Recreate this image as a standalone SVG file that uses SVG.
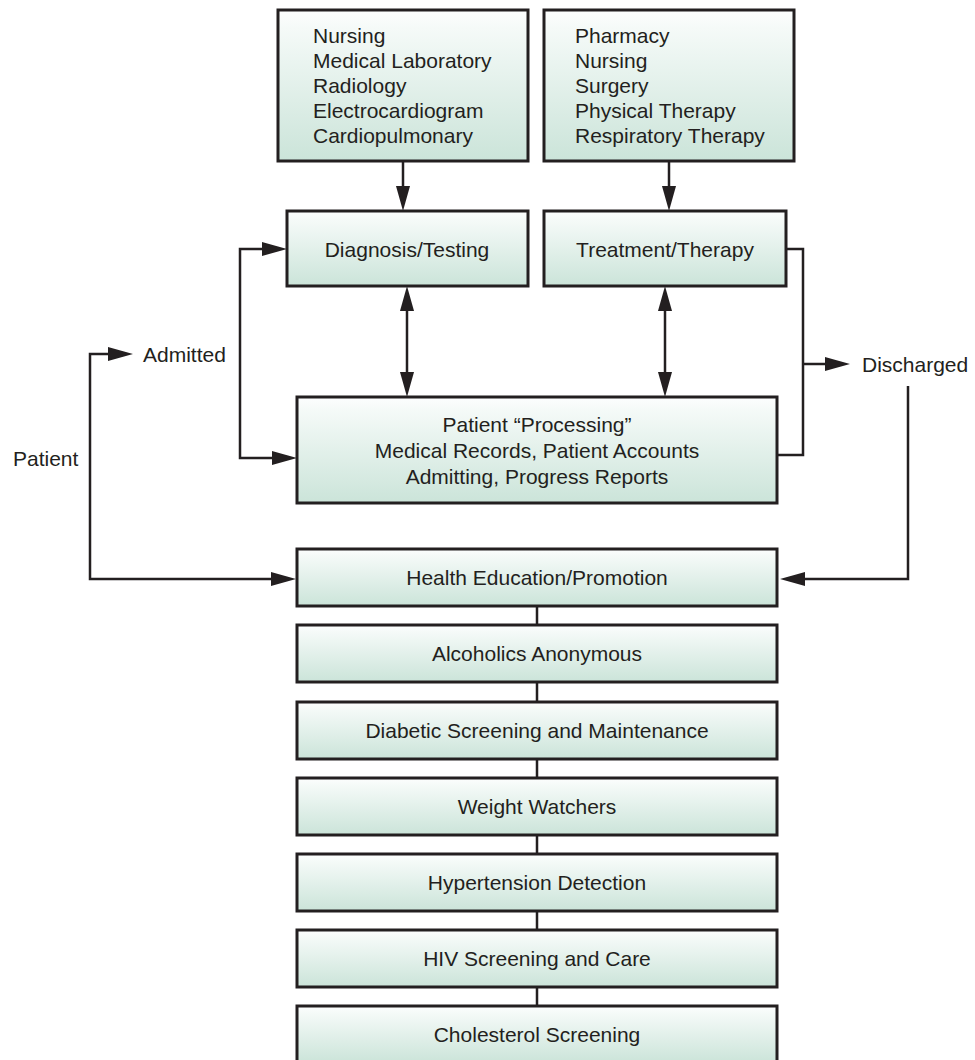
<svg xmlns="http://www.w3.org/2000/svg" width="975" height="1060" viewBox="0 0 975 1060">
  <defs>
    <linearGradient id="mint" x1="0" y1="0" x2="0" y2="1">
      <stop offset="0" stop-color="#fdfefe"/>
      <stop offset="0.12" stop-color="#f5faf8"/>
      <stop offset="1" stop-color="#cbe4d9"/>
    </linearGradient>
    <marker id="head" markerUnits="userSpaceOnUse" markerWidth="26" markerHeight="14" refX="0" refY="7" orient="auto-start-reverse">
      <path d="M0,0 L25,7 L0,14 z" fill="#231f20"/>
    </marker>
    <style>
      .box { fill: url(#mint); stroke: #231f20; stroke-width: 3; }
      .lbl { font-family: "Liberation Sans", Arial, sans-serif; font-size: 21px; fill: #231f20; }
      .mid { text-anchor: middle; }
      .wire { fill: none; stroke: #231f20; stroke-width: 2.5; }
      .arrow { marker-end: url(#head); }
      .both { marker-start: url(#head); marker-end: url(#head); }
    </style>
  </defs>
  <rect width="975" height="1060" fill="#ffffff"/>

  <!-- connectors -->
  <g id="connectors">
    <path class="wire arrow" d="M403,161 V186"/>
    <path class="wire arrow" d="M669,161 V186"/>
    <path class="wire both" d="M407,311 V372"/>
    <path class="wire both" d="M665,311 V372"/>
    <path class="wire both" d="M262,249 H240 V458 H272"/>
    <path class="wire both" d="M108,354 H90 V579 H271"/>
    <path class="wire" d="M786,249 H803 V455 H777"/>
    <path class="wire arrow" d="M803,364 H825"/>
    <path class="wire arrow" d="M908,386 V579 H805"/>
    <path class="wire" d="M537,606 V625 M537,682 V702 M537,759 V778 M537,835 V854 M537,911 V930 M537,987 V1006"/>
  </g>

  <!-- free labels -->
  <g id="labels">
    <text class="lbl" x="143" y="362">Admitted</text>
    <text class="lbl" x="13" y="466">Patient</text>
    <text class="lbl" x="862" y="372">Discharged</text>
  </g>

  <g id="diagnostic-services">
    <rect class="box" x="278" y="10" width="250" height="151"/>
    <text class="lbl" x="313" y="43">Nursing</text>
    <text class="lbl" x="313" y="68">Medical Laboratory</text>
    <text class="lbl" x="313" y="93">Radiology</text>
    <text class="lbl" x="313" y="118">Electrocardiogram</text>
    <text class="lbl" x="313" y="143">Cardiopulmonary</text>
  </g>

  <g id="therapy-services">
    <rect class="box" x="544" y="10" width="250" height="151"/>
    <text class="lbl" x="575" y="43">Pharmacy</text>
    <text class="lbl" x="575" y="68">Nursing</text>
    <text class="lbl" x="575" y="93">Surgery</text>
    <text class="lbl" x="575" y="118">Physical Therapy</text>
    <text class="lbl" x="575" y="143">Respiratory Therapy</text>
  </g>

  <g id="diagnosis">
    <rect class="box" x="287" y="211" width="241" height="75"/>
    <text class="lbl mid" x="407" y="257">Diagnosis/Testing</text>
  </g>

  <g id="treatment">
    <rect class="box" x="544" y="211" width="242" height="75"/>
    <text class="lbl mid" x="665" y="257">Treatment/Therapy</text>
  </g>

  <g id="processing">
    <rect class="box" x="297" y="397" width="480" height="106"/>
    <text class="lbl mid" x="537" y="432">Patient “Processing”</text>
    <text class="lbl mid" x="537" y="458">Medical Records, Patient Accounts</text>
    <text class="lbl mid" x="537" y="484">Admitting, Progress Reports</text>
  </g>

  <g id="health-education">
    <rect class="box" x="297" y="549" width="480" height="57"/>
    <text class="lbl mid" x="537" y="585">Health Education/Promotion</text>
  </g>

  <g id="alcoholics-anonymous">
    <rect class="box" x="297" y="625" width="480" height="57"/>
    <text class="lbl mid" x="537" y="661">Alcoholics Anonymous</text>
  </g>

  <g id="diabetic-screening">
    <rect class="box" x="297" y="702" width="480" height="57"/>
    <text class="lbl mid" x="537" y="738">Diabetic Screening and Maintenance</text>
  </g>

  <g id="weight-watchers">
    <rect class="box" x="297" y="778" width="480" height="57"/>
    <text class="lbl mid" x="537" y="814">Weight Watchers</text>
  </g>

  <g id="hypertension">
    <rect class="box" x="297" y="854" width="480" height="57"/>
    <text class="lbl mid" x="537" y="890">Hypertension Detection</text>
  </g>

  <g id="hiv-screening">
    <rect class="box" x="297" y="930" width="480" height="57"/>
    <text class="lbl mid" x="537" y="966">HIV Screening and Care</text>
  </g>

  <g id="cholesterol">
    <rect class="box" x="297" y="1006" width="480" height="57"/>
    <text class="lbl mid" x="537" y="1042">Cholesterol Screening</text>
  </g>
</svg>
